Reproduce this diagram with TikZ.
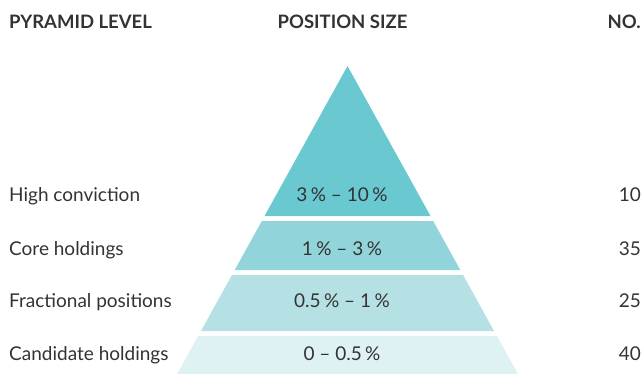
\documentclass[tikz,border=0pt]{standalone}
\usepackage{fontspec}
\setmainfont{Lato}
\definecolor{txt}{HTML}{333333}
\definecolor{bandA}{HTML}{69C8D0}
\definecolor{bandB}{HTML}{91D5DA}
\definecolor{bandC}{HTML}{B6E1E4}
\definecolor{bandD}{HTML}{DFF2F3}
\newcommand{\pc}{\hspace{0.18em}\%}
\tikzset{
  lbl/.style={text=txt, font=\fontsize{19}{21}\selectfont, inner sep=0pt, anchor=base west},
  val/.style={text=txt, font=\fontsize{19}{21}\selectfont, inner sep=0pt, anchor=base},
  num/.style={text=txt, font=\fontsize{19}{21}\selectfont, inner sep=0pt, anchor=base east},
  hdr/.style={text=txt, font=\fontsize{18.5}{20}\selectfont\bfseries, inner sep=0pt}
}
\begin{document}
\begin{tikzpicture}[x=1pt,y=-1pt]
\useasboundingbox (0,0) rectangle (644,374);
% pyramid bands
\fill[bandA] (347.5,66) -- (430.5,216) -- (264.5,216) -- cycle;
\fill[bandB] (261.8,221) -- (433.2,221) -- (460.3,270) -- (234.7,270) -- cycle;
\fill[bandC] (231.9,275) -- (463.1,275) -- (494,331) -- (201,331) -- cycle;
\fill[bandD] (198,336) -- (497,336) -- (518,374) -- (177,374) -- cycle;
% headers
\node[hdr, anchor=base west] (h1) at (9,28.5) {PYRAMID LEVEL};
\node[hdr, anchor=base] (h2) at (342.5,28.5) {POSITION SIZE};
\node[hdr, anchor=base east] (h3) at (641,28.5) {NO.};
% rows
\node[lbl] (l1) at (9,201.7) {High conviction};
\node[lbl] (l2) at (9,255) {Core holdings};
\node[lbl] (l3) at (9,307.7) {Fractional positions};
\node[lbl] (l4) at (9,360) {Candidate holdings};
\node[val] (v1) at (342,201.7) {3\pc{} – 10\pc};
\node[val] (v2) at (342,255) {1\pc{} – 3\pc};
\node[val] (v3) at (342,307.7) {0.5\pc{} – 1\pc};
\node[val] (v4) at (342,360) {0 – 0.5\pc};
\node[num] (n1) at (641,201.7) {10};
\node[num] (n2) at (641,255) {35};
\node[num] (n3) at (641,307.7) {25};
\node[num] (n4) at (641,360) {40};
\end{tikzpicture}
\end{document}
